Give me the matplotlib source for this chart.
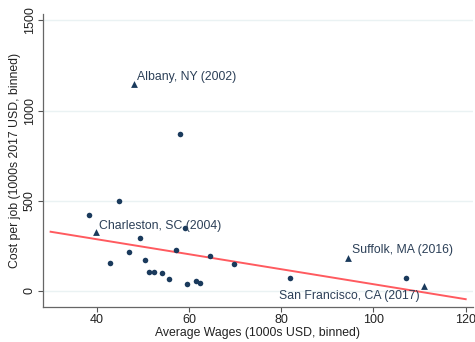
import numpy as np
import matplotlib
matplotlib.use("Agg")
import matplotlib.pyplot as plt

plt.rcParams['font.family'] = ['Liberation Sans', 'DejaVu Sans']

# binned projects (average wage vs. cost per job)
wage = [38.3, 44.9, 42.8, 47.0, 49.3, 50.4, 51.3, 52.4, 54.1, 55.7, 57.1,
        59.1, 59.6, 61.5, 62.5, 64.6, 69.8, 82.0, 107.1, 58.0]
cost = [421, 498, 155, 213, 295, 172, 104, 103, 97, 68, 225,
        348, 38, 53, 46, 196, 148, 70, 70, 868]

# highlighted deals
deal_names = ["Albany, NY (2002)", "Charleston, SC (2004)",
              "Suffolk, MA (2016)", "San Francisco, CA (2017)"]
deal_wage = [48.1, 39.9, 94.5, 111.0]
deal_cost = [1148, 326, 185, 26]

# linear fit endpoints
fit_x = [30, 120]
fit_y = [328, -46]

navy = '#1a3a5c'
fig = plt.figure(figsize=(4.75, 3.42), dpi=100)
ax = fig.add_axes([0.09, 0.103, 0.905, 0.855])

for g in [0, 500, 1000, 1500]:
    ax.axhline(g, color='#eaf2f3', lw=1.0, zorder=0)

ax.plot(fit_x, fit_y, color='#ff5a5f', lw=1.4, zorder=2)
ax.scatter(wage, cost, s=16, color=navy, zorder=3, linewidths=0)
ax.scatter(deal_wage, deal_cost, s=24, marker='^', color=navy, zorder=3, linewidths=0)

offsets = [(2, 3), (2, 2), (2.5, 3), (-3, -9.5)]
aligns = ['left', 'left', 'left', 'right']
for name, x, y, off, ha in zip(deal_names, deal_wage, deal_cost, offsets, aligns):
    ax.annotate(name, (x, y), xytext=off, textcoords='offset points',
                ha=ha, va='baseline', fontsize=8.8, color='#2b3f57')

ax.set_xlim(28.3, 121.5)
ax.set_ylim(-88, 1533)
ax.set_xticks([40, 60, 80, 100, 120])
ax.set_yticks([0, 500, 1000, 1500])
ax.tick_params(axis='y', labelrotation=90)
for lab in ax.get_yticklabels():
    lab.set_va('center')
ax.tick_params(colors='#555555', labelcolor='#222222', labelsize=9, length=3.6, width=0.8, pad=1.5)

for side in ['top', 'right']:
    ax.spines[side].set_visible(False)
for side in ['left', 'bottom']:
    ax.spines[side].set_color('#666666')
    ax.spines[side].set_linewidth(0.9)

ax.set_xlabel("Average Wages (1000s USD, binned)", fontsize=8.8, color='#222222', labelpad=1)
ax.set_ylabel("Cost per job (1000s 2017 USD, binned)", fontsize=8.8, color='#222222', labelpad=2)

fig.savefig("out.png", dpi=100)
